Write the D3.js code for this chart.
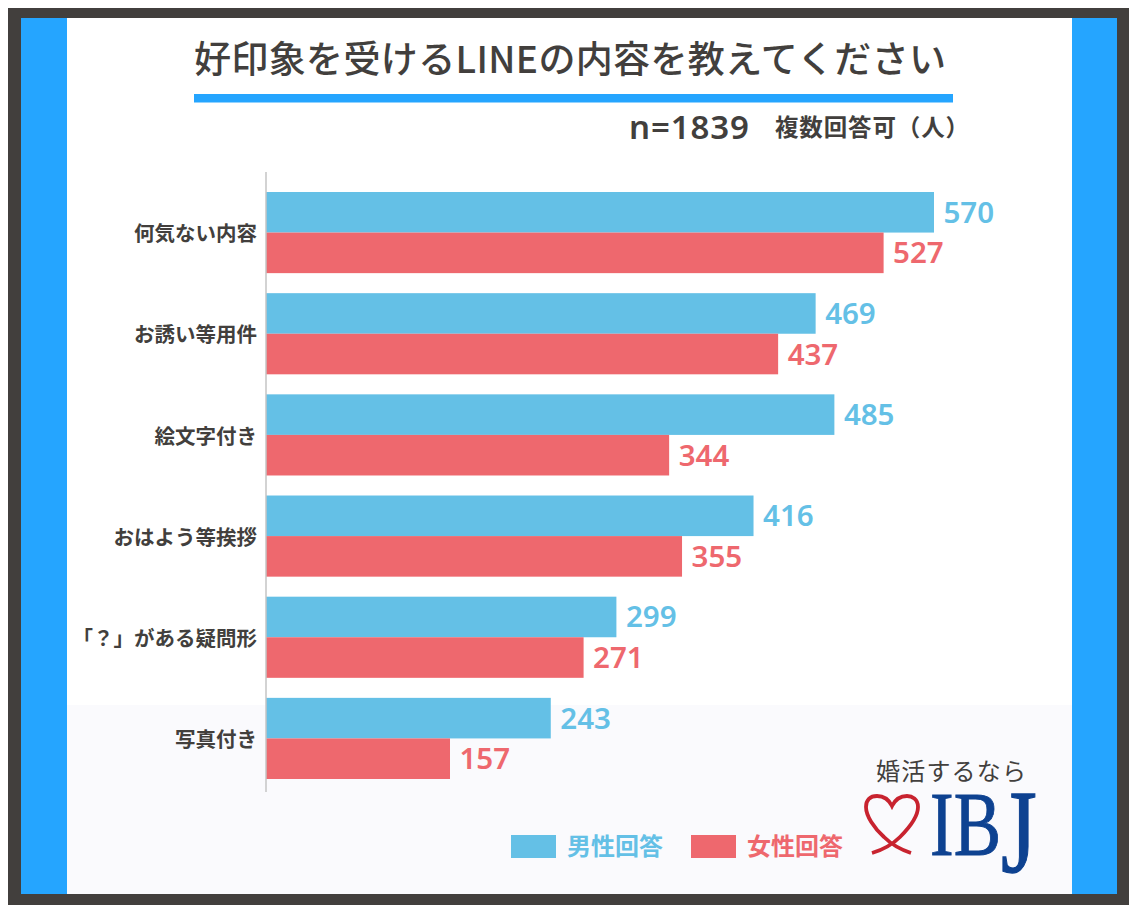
<!DOCTYPE html>
<html>
<head>
<meta charset="utf-8">
<script src="https://cdn.jsdelivr.net/npm/d3@7"></script>
<style>
html, body { margin: 0; padding: 0; background: #fff; }
svg { display: block; }
text { font-family: "Noto Sans CJK JP", sans-serif; }
</style>
</head>
<body>
<div id="chart"></div>
<script>
// chart values
const categories = ["何気ない内容", "お誘い等用件", "絵文字付き", "おはよう等挨拶", "「？」がある疑問形", "写真付き"];
const men = [570, 469, 485, 416, 299, 243];
const women = [527, 437, 344, 355, 271, 157];
const seriesNames = ["男性回答", "女性回答"];

const titleText = "好印象を受けるLINEの内容を教えてください";
const sampleText = "n=1839";
const noteText = "複数回答可（人）";
const logoLine = "婚活するなら";
const logoName = "IBJ";

const WIDTH = 1140, HEIGHT = 912;
const BLUE = "#64c0e6", RED = "#ee686e", DARK = "#423f3d", ACCENT = "#25a5ff", NAVY = "#0e4291";

const svg = d3.select("#chart").append("svg")
    .attr("width", WIDTH)
    .attr("height", HEIGHT);

// frame + panels
svg.append("rect").attr("x", 8).attr("y", 8).attr("width", 1121).attr("height", 897).attr("fill", DARK);
svg.append("rect").attr("x", 21).attr("y", 18).attr("width", 1096).attr("height", 876).attr("fill", "#fff");
svg.append("rect").attr("x", 67).attr("y", 705).attr("width", 1005).attr("height", 189).attr("fill", "#fafafd");
svg.append("rect").attr("x", 21).attr("y", 18).attr("width", 46).attr("height", 876).attr("fill", ACCENT);
svg.append("rect").attr("x", 1072).attr("y", 18).attr("width", 45).attr("height", 876).attr("fill", ACCENT);

// title
svg.append("text")
    .attr("x", 194).attr("y", 73)
    .attr("font-size", 37)
    .attr("font-weight", 500)
    .attr("textLength", 752)
    .attr("fill", DARK)
    .text(titleText);
svg.append("rect").attr("x", 194).attr("y", 94).attr("width", 759).attr("height", 8.5).attr("fill", ACCENT);

svg.append("text")
    .attr("x", 629).attr("y", 139)
    .attr("font-size", 33)
    .attr("font-weight", 600)
    .attr("textLength", 120)
    .style("font-family", "'Noto Sans', sans-serif")
    .attr("fill", DARK)
    .text(sampleText);
svg.append("text")
    .attr("x", 775).attr("y", 136)
    .attr("font-size", 23.5)
    .attr("font-weight", 700)
    .attr("textLength", 194)
    .attr("fill", DARK)
    .text(noteText);

// scales
const x = d3.scaleLinear().domain([0, 570]).range([266, 934]);
const y = d3.scaleBand().domain(categories).range([192, 779]).paddingInner(0.198);
const inner = d3.scaleBand().domain(seriesNames).range([0, y.bandwidth()]);
const seriesValues = [men, women];
const seriesColors = d3.scaleOrdinal().domain(seriesNames).range([BLUE, RED]);

// bars + value labels
seriesNames.forEach((name, s) => {
    const g = svg.append("g");
    g.selectAll("rect")
        .data(seriesValues[s])
        .join("rect")
        .attr("x", x(0))
        .attr("y", (d, i) => y(categories[i]) + inner(name))
        .attr("width", d => x(d) - x(0))
        .attr("height", inner.bandwidth())
        .attr("fill", seriesColors(name));
    g.selectAll("text")
        .data(seriesValues[s])
        .join("text")
        .attr("x", d => x(d) + 9.5)
        .attr("y", (d, i) => y(categories[i]) + inner(name) + inner.bandwidth() / 2 + 10.5)
        .attr("font-size", 29.5)
        .attr("font-weight", 600)
        .style("font-family", "'Noto Sans', sans-serif")
        .attr("fill", seriesColors(name))
        .text(d => d);
});

// category axis
const axis = svg.append("g")
    .attr("transform", `translate(${x(0)},0)`)
    .call(d3.axisLeft(y).tickSize(0).tickPadding(9));
axis.select(".domain").remove();
axis.selectAll("text")
    .attr("dy", "0.42em")
    .attr("font-size", 20.5)
    .attr("font-weight", 700)
    .attr("fill", DARK)
    .style("font-family", "'Noto Sans CJK JP', sans-serif");
svg.append("line")
    .attr("x1", x(0)).attr("x2", x(0))
    .attr("y1", 172).attr("y2", 792)
    .attr("stroke", "#c4c4c4")
    .attr("stroke-width", 1.5);

// legend
const legendX = d3.scaleOrdinal().domain(seriesNames).range([511, 691]);
const legend = svg.append("g").selectAll("g").data(seriesNames).join("g")
    .attr("transform", d => `translate(${legendX(d)},835)`);
legend.append("rect")
    .attr("width", 45).attr("height", 23)
    .attr("fill", d => seriesColors(d));
legend.append("text")
    .attr("x", 56).attr("y", 20)
    .attr("font-size", 24)
    .attr("font-weight", 700)
    .attr("textLength", 96)
    .attr("fill", d => seriesColors(d))
    .text(d => d);

// logo
svg.append("text")
    .attr("x", 951).attr("y", 780)
    .attr("text-anchor", "middle")
    .attr("font-size", 24)
    .attr("textLength", 150)
    .attr("fill", DARK)
    .text(logoLine);
svg.append("path")
    .attr("d", "M872 853 C882 850 892 845 900 837 C909 828 918 816 918 807 C918 799 912 796 907 796 C900 796 895 800 892 806 C889 800 884 796 877 796 C870 796 866 800 866 807 C866 816 874 828 884 837 C892 845 902 850 911 853")
    .attr("fill", "none")
    .attr("stroke", "#c8232f")
    .attr("stroke-width", 3.8);
svg.append("text")
    .attr("x", 930).attr("y", 855)
    .attr("font-size", 92)
    .attr("textLength", 71)
    .attr("lengthAdjust", "spacingAndGlyphs")
    .style("font-family", "'Liberation Serif', serif")
    .attr("fill", NAVY)
    .attr("stroke", NAVY)
    .attr("stroke-width", 1)
    .text(logoName.slice(0, 2));
// J hangs below the baseline in the logo, so it gets stretched on its own
svg.append("text")
    .attr("transform", "translate(1001,795) scale(1,1.28)")
    .attr("y", 60)
    .attr("font-size", 92)
    .style("font-family", "'Liberation Serif', serif")
    .attr("fill", NAVY)
    .attr("stroke", NAVY)
    .attr("stroke-width", 1)
    .text(logoName.slice(2));
</script>
</body>
</html>
